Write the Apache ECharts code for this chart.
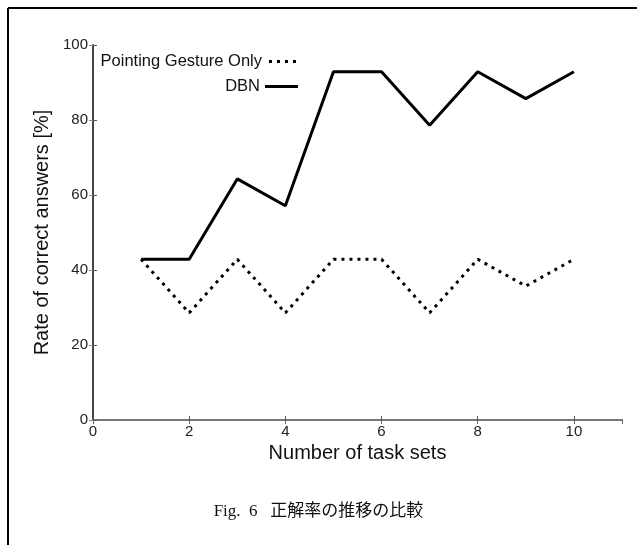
<!DOCTYPE html>
<html>
<head>
<meta charset="utf-8">
<script src="https://cdn.jsdelivr.net/npm/echarts@6/dist/echarts.min.js"></script>
<style>html,body{margin:0;padding:0;background:#fff;}#c{width:637px;height:545px;}</style>
</head>
<body>
<div id="c"></div>
<script>
var taskSets = [1, 2, 3, 4, 5, 6, 7, 8, 9, 10];
var pointingOnly = [42.86, 28.57, 42.86, 28.57, 42.86, 42.86, 28.57, 42.86, 35.71, 42.86];
var dbn = [42.86, 42.86, 64.29, 57.14, 92.86, 92.86, 78.57, 92.86, 85.71, 92.86];
var seriesNames = ['Pointing Gesture Only', 'DBN'];
var xTitle = 'Number of task sets';
var yTitle = 'Rate of correct answers [%]';
var caption = 'Fig.  6   正解率の推移の比較';

function pairs(xs, ys) { return xs.map(function (x, i) { return [x, ys[i]]; }); }

var chart = echarts.init(document.getElementById('c'), null, { renderer: 'canvas' });
var font = 'Liberation Sans, Arial, sans-serif';
var dotIcon = 'path://M0,0h3v3h-3z M8,0h3v3h-3z M16,0h3v3h-3z M24,0h3v3h-3z';
chart.setOption({
  animation: false,
  backgroundColor: '#fff',
  grid: { left: 93, right: 15, top: 45, bottom: 125, containLabel: false },
  legend: [
    { data: [{ name: seriesNames[0], icon: dotIcon }], right: 336, top: 48, align: 'right',
      itemWidth: 27, itemHeight: 3, itemStyle: { color: '#000' },
      textStyle: { fontFamily: font, fontSize: 16.5, color: '#111', padding: [0, 2, 0, 0] }, selectedMode: false },
    { data: [{ name: seriesNames[1], icon: 'rect' }], right: 334, top: 73, align: 'right',
      itemWidth: 33, itemHeight: 3, itemStyle: { color: '#000' },
      textStyle: { fontFamily: font, fontSize: 16.5, color: '#111', padding: [0, 0, 0, 0] }, selectedMode: false }
  ],
  xAxis: [
    { type: 'value', min: 0, max: 11, interval: 2, position: 'bottom',
      name: xTitle, nameLocation: 'middle', nameGap: 18,
      nameTextStyle: { fontFamily: font, fontSize: 20, color: '#111' },
      axisLine: { lineStyle: { color: '#333', width: 1.5 } },
      axisTick: { inside: true, length: 4, lineStyle: { color: '#555' } },
      axisLabel: { showMaxLabel: false, margin: 4, fontFamily: font, fontSize: 15, color: '#222' },
      splitLine: { show: false } },
    { type: 'value', min: 0, max: 11, interval: 2, position: 'top',
      axisLine: { show: true, lineStyle: { color: '#777', width: 2 } },
      axisTick: { inside: true, length: 4, lineStyle: { color: '#666' } },
      axisLabel: { show: false }, splitLine: { show: false } }
  ],
  yAxis: [
    { type: 'value', min: 0, max: 100, interval: 20, position: 'left',
      name: yTitle, nameLocation: 'middle', nameGap: 39,
      nameTextStyle: { fontFamily: font, fontSize: 20, color: '#111' },
      axisLine: { show: true, lineStyle: { color: '#444', width: 2 } },
      axisTick: { show: true, inside: true, length: 4, lineStyle: { color: '#555' } },
      axisLabel: { margin: 5, fontFamily: font, fontSize: 15, color: '#222' },
      splitLine: { show: false } },
    { type: 'value', min: 0, max: 100, interval: 20, position: 'right',
      axisLine: { show: false },
      axisTick: { show: true, inside: true, length: 4, lineStyle: { color: '#888' } },
      axisLabel: { show: false }, splitLine: { show: false } }
  ],
  series: [
    { name: seriesNames[0], type: 'line', data: pairs(taskSets, pointingOnly), symbol: 'none',
      lineStyle: { color: '#000', width: 3, type: [3, 5], cap: 'butt' }, itemStyle: { color: '#000' } },
    { name: seriesNames[1], type: 'line', data: pairs(taskSets, dbn), symbol: 'none',
      lineStyle: { color: '#000', width: 3, type: 'solid' }, itemStyle: { color: '#000' } }
  ],
  graphic: [
    { type: 'line', shape: { x1: 8, y1: 8, x2: 637, y2: 8 }, style: { stroke: '#000', lineWidth: 2 } },
    { type: 'line', shape: { x1: 8, y1: 8, x2: 8, y2: 545 }, style: { stroke: '#000', lineWidth: 2 } },
    { type: 'text', left: 'center', top: 503,
      style: { text: caption, font: '17px "Liberation Serif", "Noto Sans CJK JP", serif', fill: '#111' } }
  ]
});
</script>
</body>
</html>
